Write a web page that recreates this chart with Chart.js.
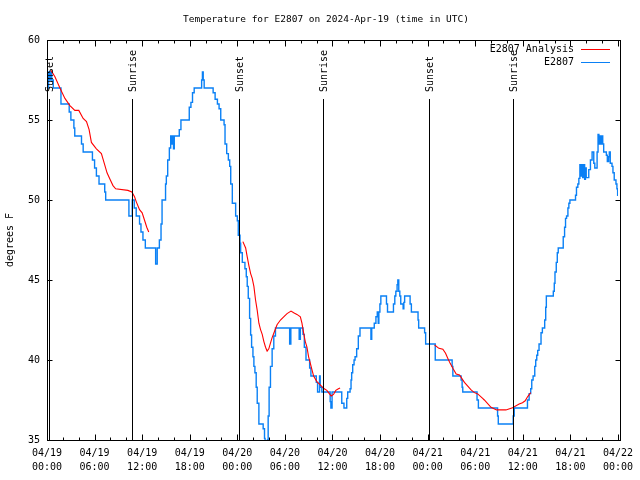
<!DOCTYPE html>
<html><head><meta charset="utf-8">
<script src="https://cdn.jsdelivr.net/npm/chart.js@4/dist/chart.umd.min.js"></script>
<style>html,body{margin:0;padding:0;background:#fff}canvas{display:block}</style>
</head><body>
<canvas id="c" width="640" height="480"></canvas>
<script>
const titleText = 'Temperature for E2807 on 2024-Apr-19 (time in UTC)';
const yAxisTitle = 'degrees F';
const seriesNames = ['E2807 Analysis', 'E2807'];
const xTickDates = ['04/19','04/19','04/19','04/19','04/20','04/20','04/20','04/20','04/21','04/21','04/21','04/21','04/22'];
const xTickTimes = ['00:00','06:00','12:00','18:00','00:00','06:00','12:00','18:00','00:00','06:00','12:00','18:00','00:00'];
const sunsetHours = [0.2, 24.2, 48.22];
const sunriseHours = [10.72, 34.78, 58.75];

// E2807 sensor readings: hours since 04/19 00:00 UTC, degrees F
const sensorHours = [0,0.1,0.2,0.35,0.45,0.6,0.79,1.76,2.8,3.01,3.39,3.5,4.35,4.56,5.73,6,6.23,6.56,7.28,7.4,10.33,10.75,11,11.25,11.67,11.85,12.1,12.4,13.7,13.9,14.17,14.38,14.51,14.95,15.05,15.22,15.43,15.6,15.75,15.85,15.95,16.05,16.68,16.89,17.94,18.15,18.35,18.56,19.5,19.6,19.7,19.82,20.95,21.2,21.49,21.7,21.91,22.33,22.45,22.66,22.87,23.04,23.17,23.37,23.79,24,24.12,24.34,24.42,24.63,24.96,25.13,25.25,25.38,25.55,25.68,25.8,25.97,26.09,26.22,26.38,26.51,26.72,27.26,27.43,27.5,27.8,27.89,28.01,28.18,28.39,28.6,28.81,30.6,30.75,31.8,31.95,32.28,32.45,32.66,33.12,33.28,33.96,34.12,34.37,34.45,34.66,35.71,35.8,35.95,37.17,37.45,37.8,37.92,38.22,38.34,38.42,38.55,38.72,38.85,39.05,39.26,39.47,40.85,40.95,41.27,41.48,41.65,41.77,41.85,41.98,42.1,42.81,42.94,43.69,43.86,43.99,44.15,44.24,44.36,44.49,44.61,44.91,45,45.1,45.79,45.95,46.79,46.87,47.62,47.75,48.96,51.09,51.18,52.22,52.35,52.43,54.23,54.4,56.82,56.91,58.79,58.92,60.59,60.8,61,61.13,61.3,61.51,61.63,61.76,61.88,62.05,62.3,62.47,62.76,62.89,62.97,63.85,63.97,64.06,64.22,64.35,64.47,65.1,65.27,65.39,65.52,65.69,65.81,65.94,66.65,66.77,66.94,67.07,67.2,67.3,67.45,67.55,67.7,67.8,67.9,68,68.32,68.53,68.74,68.95,69.08,69.37,69.49,69.6,69.72,69.85,69.91,70.08,70.2,70.54,70.66,70.83,70.91,71.03,71.25,71.37,71.53,71.75,71.87,71.96,72];
const sensorTemps = [58,57,58,57.5,58,57.5,57,56,55.5,55,54.5,54,53.5,53,52.5,52,51.5,51,50.5,50,49,50,49.5,49,48.5,48,47.5,47,46,47,47.5,48.5,50,51,51.5,52.5,53.25,54,53.5,54,53.2,54,54.4,55,55.8,56.1,56.7,57,57.5,58,57.5,57,56.7,56.3,56,55.7,55,54.7,53.5,52.9,52.5,52.1,51,49.8,49,48.7,47.8,47.3,46.7,46.1,45.7,45.2,44.6,43.85,42.6,41.56,40.8,40.2,39.6,39.2,38.3,37.3,36,35.7,35.1,34.5,35,36.5,38.3,39.6,40.7,41.5,42,41,42,41.3,42,41.6,40.8,40,39.5,39,38.6,38,39,38.3,38,37.4,37,38,37.3,37,37.6,38,38.2,38.75,39.2,39.7,40,40.2,40.7,41.5,42,41.3,42,42.3,42.7,43,42.3,43,43.5,44,43.5,43,43.5,44,44.3,44.7,45,44.3,44,43.5,43.2,43.6,44,43.5,43,42.5,42,41.7,41,40,39.6,39,38.75,38.3,38,37.5,37,36.5,36,36.5,37,37.5,37.9,38.2,38.75,39,39.6,40,40.3,40.6,41,41.7,42,42.5,43.3,44,44.3,44.8,45.5,46.1,46.7,47,47.7,48.3,48.85,49,49.5,49.8,50,50.3,50.8,51,51.35,52.2,51.5,52.2,51.4,52.2,51.3,52,51.4,51.9,52.5,53,52.3,52,53,54.1,53.5,54,53.5,54,53.5,53,52.8,52.4,52.7,53,52.3,52.1,51.7,51.25,51,50.7,50.3,50.3];

// E2807 Analysis: hours and degrees F (null = gap)
const analysisHours = [0.5,1,1.63,2.26,2.89,3.51,4.01,4.56,4.98,5.31,5.6,6.23,6.86,7.28,7.57,7.9,8.32,8.66,10.2,10.7,11.04,11.25,11.67,12,12.29,12.58,12.83,
  13,
  24.7,25.05,25.25,25.46,25.68,25.88,26.09,26.3,26.51,26.72,26.93,27.14,27.35,27.56,27.76,27.97,28.18,28.39,28.6,29.01,29.44,29.85,30.27,30.77,31.11,31.52,31.95,32.15,32.36,32.57,32.78,32.99,33.2,33.41,33.62,34.03,34.46,34.87,35.29,35.6,35.84,36.13,36.42,36.75,36.96,
  37.2,
  48.88,49.42,49.92,50.26,50.55,50.84,51.18,51.6,52.02,52.64,53.48,53.9,54.32,54.94,55.15,55.99,56.7,57.87,58.71,59.54,59.96,60.3,60.6,61];
const analysisTemps = [58.1,57.7,57,56.35,55.9,55.6,55.6,55.1,54.9,54.4,53.6,53.2,52.9,52.2,51.7,51.35,50.9,50.7,50.6,50.5,50.2,49.9,49.4,49.2,48.75,48.3,48,
  null,
  47.4,47,46.45,45.9,45.4,45.1,44.6,43.75,43.1,42.3,41.9,41.6,41.15,40.8,40.56,40.7,41.05,41.4,41.67,42.2,42.5,42.7,42.9,43.06,42.95,42.85,42.7,42.3,41.7,41.15,40.8,40.2,39.8,39.4,39,38.65,38.44,38.23,38.1,37.9,37.75,37.85,38.1,38.2,38.25,
  null,
  40.94,40.73,40.67,40.42,40.1,39.79,39.48,39.13,39.06,38.6,38.13,37.96,37.88,37.6,37.5,37.04,36.88,36.88,37.02,37.25,37.33,37.45,37.7,37.96];

const FONT = '"DejaVu Sans Mono", "Liberation Mono", monospace';
const RED = '#ff0000';
const BLUE = '#0a80f5';

const zip = (xs, ys) => xs.map((x, i) => ({x: x, y: ys[i]}));

const decor = {
  id: 'decor',
  afterDatasetsDraw(chart) {
    const ctx = chart.ctx, a = chart.chartArea;
    const xs = chart.scales.x;
    ctx.save();
    ctx.strokeStyle = '#000';
    ctx.lineWidth = 1;
    const marks = [];
    sunsetHours.forEach(h => marks.push([h, 'Sunset']));
    sunriseHours.forEach(h => marks.push([h, 'Sunrise']));
    ctx.font = '10px ' + FONT;
    ctx.fillStyle = '#000';
    marks.forEach(([h, label]) => {
      const px = Math.round(xs.getPixelForValue(h)) + 0.5;
      ctx.beginPath();
      ctx.moveTo(px, 99);
      ctx.lineTo(px, a.bottom);
      ctx.stroke();
      ctx.save();
      ctx.translate(px + 1, 92);
      ctx.rotate(-Math.PI / 2);
      ctx.textAlign = 'left';
      ctx.textBaseline = 'middle';
      ctx.fillText(label, 0, 0);
      ctx.restore();
    });
    ctx.restore();
  },
  afterDraw(chart) {
    const ctx = chart.ctx;
    const xs = chart.scales.x, ys = chart.scales.y;
    ctx.save();
    ctx.strokeStyle = '#000';
    ctx.lineWidth = 1;
    const L = 47.5, R = 620.5, T = 40.5, B = 440.5;
    ctx.strokeRect(L, T, R - L, B - T);
    ctx.beginPath();
    xs.ticks.forEach(t => {
      const px = Math.round(xs.getPixelForValue(t.value)) + 0.5;
      const len = (Math.round(t.value) % 6 === 0) ? 6 : 3;
      ctx.moveTo(px, B); ctx.lineTo(px, B - len);
      ctx.moveTo(px, T); ctx.lineTo(px, T + len);
    });
    ys.ticks.forEach(t => {
      const py = Math.round(ys.getPixelForValue(t.value)) + 0.5;
      ctx.moveTo(L, py); ctx.lineTo(L + 5, py);
      ctx.moveTo(R, py); ctx.lineTo(R - 5, py);
    });
    ctx.stroke();
    ctx.fillStyle = '#000';
    ctx.font = '9.5px ' + FONT;
    ctx.textAlign = 'center';
    ctx.textBaseline = 'middle';
    ctx.fillText(titleText, 326, 20);
    ctx.font = '10px ' + FONT;
    ctx.textAlign = 'right';
    ctx.fillText(seriesNames[0], 574, 49.5);
    ctx.fillText(seriesNames[1], 574, 62.5);
    ctx.strokeStyle = RED;
    ctx.beginPath(); ctx.moveTo(581, 49.5); ctx.lineTo(610, 49.5); ctx.stroke();
    ctx.strokeStyle = BLUE;
    ctx.beginPath(); ctx.moveTo(581, 62.5); ctx.lineTo(610, 62.5); ctx.stroke();
    ctx.restore();
  }
};

new Chart(document.getElementById('c'), {
  type: 'line',
  data: {
    datasets: [
      {label: seriesNames[1], data: zip(sensorHours, sensorTemps), borderColor: BLUE, borderWidth: 1.4,
       pointRadius: 0, stepped: true, fill: false, clip: 0, order: 2},
      {label: seriesNames[0], data: zip(analysisHours, analysisTemps), borderColor: RED, borderWidth: 1.1,
       pointRadius: 0, tension: 0, spanGaps: false, fill: false, clip: 0, order: 1}
    ]
  },
  options: {
    responsive: false,
    animation: false,
    events: [],
    layout: {padding: {left: 0, right: 19, top: 40, bottom: 0}},
    plugins: {legend: {display: false}, title: {display: false}, tooltip: {enabled: false}},
    scales: {
      x: {
        type: 'linear', min: 0, max: 72,
        grid: {display: false, drawTicks: false}, border: {display: false},
        ticks: {
          stepSize: 2, autoSkip: false, maxRotation: 0, minRotation: 0, padding: 7,
          color: '#000', font: {family: FONT, size: 10, lineHeight: 1.33},
          callback: (v) => {
            const r = Math.round(v);
            return r % 6 === 0 ? [xTickDates[r / 6], xTickTimes[r / 6]] : '';
          }
        },
        afterFit: (s) => { s.height = 40; }
      },
      y: {
        type: 'linear', min: 35, max: 60,
        grid: {display: false, drawTicks: false}, border: {display: false},
        ticks: {stepSize: 5, padding: 7, color: '#000', font: {family: FONT, size: 10}},
        title: {display: true, text: yAxisTitle, color: '#000', font: {family: FONT, size: 10}, padding: {top: 4, bottom: 0}},
        afterFit: (s) => { s.width = 47; }
      }
    }
  },
  plugins: [decor]
});
</script>
</body></html>
